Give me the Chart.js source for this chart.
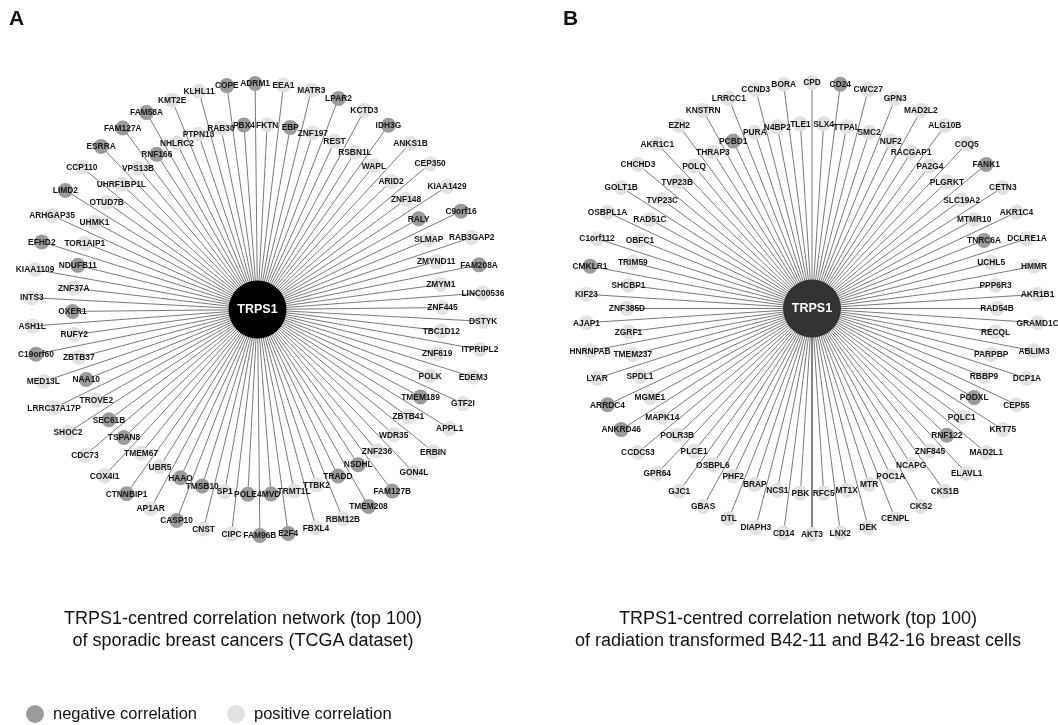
<!DOCTYPE html>
<html>
<head>
<meta charset="utf-8">
<script src="https://cdn.jsdelivr.net/npm/chart.js@4"></script>
<style>
  body { margin: 0; background: #fff; }
  #wrap { position: relative; width: 1058px; height: 725px; overflow: hidden; }
  #net { position: absolute; left: 0; top: 0; }
  .txt { position: absolute; font-family: 'Liberation Sans', Arial, sans-serif; color: #111; }
  .letter { font-weight: bold; font-size: 21px; top: 6px; }
  .title { width: 520px; text-align: center; font-size: 18px; line-height: 22px; top: 607px; }
  .legend { top: 702px; left: 26px; font-size: 16.5px; line-height: 22px; white-space: nowrap; }
  .dot { display: inline-block; width: 18px; height: 18px; border-radius: 50%; vertical-align: -4px; margin-right: 9px; }
</style>
</head>
<body>
<div id="wrap">
  <canvas id="net" width="1058" height="725"></canvas>
  <div class="txt letter" style="left:9px">A</div>
  <div class="txt letter" style="left:563px">B</div>
  <div class="txt title" style="left:-17px">TRPS1-centred correlation network (top 100)<br>of sporadic breast cancers (TCGA dataset)</div>
  <div class="txt title" style="left:538px">TRPS1-centred correlation network (top 100)<br>of radiation transformed B42-11 and B42-16 breast cells</div>
  <div class="txt legend"><span class="dot" style="background:#9b9b9b"></span>negative correlation<span class="dot" style="background:#e2e2e2;margin-left:30px"></span>positive correlation</div>
</div>
<script>
// hub gene of both networks
const hub = 'TRPS1';

// panel A: TCGA sporadic breast cancers, clockwise from the top
const genesA = [
  'ADRM1', 'FKTN', 'EEA1', 'EBP', 'MATR3', 'ZNF197', 'LPAR2', 'REST', 'KCTD3', 'RSBN1L',
  'IDH3G', 'WAPL', 'ANKS1B', 'ARID2', 'CEP350', 'ZNF148', 'KIAA1429', 'RALY', 'C9orf16', 'SLMAP',
  'RAB3GAP2', 'ZMYND11', 'FAM208A', 'ZMYM1', 'LINC00536', 'ZNF445', 'DSTYK', 'TBC1D12', 'ITPRIPL2', 'ZNF619',
  'EDEM3', 'POLK', 'GTF2I', 'TMEM189', 'APPL1', 'ZBTB41', 'ERBIN', 'WDR35', 'GON4L', 'ZNF236',
  'FAM127B', 'NSDHL', 'TMEM208', 'TRADD', 'RBM12B', 'TTBK2', 'FBXL4', 'TRMT1L', 'E2F4', 'MVD',
  'FAM96B', 'POLE4', 'CIPC', 'SP1', 'CNST', 'TMSB10', 'CASP10', 'HAAO', 'AP1AR', 'UBR5',
  'CTNNBIP1', 'TMEM67', 'COX4I1', 'TSPAN8', 'CDC73', 'SEC61B', 'SHOC2', 'TROVE2', 'LRRC37A17P', 'NAA10',
  'MED13L', 'ZBTB37', 'C19orf60', 'RUFY2', 'ASH1L', 'OXER1', 'INTS3', 'ZNF37A', 'KIAA1109', 'NDUFB11',
  'EFHD2', 'TOR1AIP1', 'ARHGAP35', 'UHMK1', 'LIMD2', 'OTUD7B', 'CCP110', 'UHRF1BP1L', 'ESRRA', 'VPS13B',
  'FAM127A', 'RNF166', 'FAM58A', 'NHLRC2', 'KMT2E', 'PTPN13', 'KLHL11', 'RAB30', 'COPE', 'PBX4'
];
const negativeA = [
  'ADRM1', 'EBP', 'LPAR2', 'IDH3G', 'RALY', 'C9orf16', 'FAM208A', 'TMEM189', 'FAM127B', 'NSDHL',
  'TMEM208', 'TRADD', 'E2F4', 'MVD', 'FAM96B', 'POLE4', 'TMSB10', 'CASP10', 'HAAO', 'CTNNBIP1',
  'TSPAN8', 'SEC61B', 'NAA10', 'C19orf60', 'OXER1', 'NDUFB11', 'EFHD2', 'LIMD2', 'ESRRA', 'FAM127A',
  'RNF166', 'FAM58A', 'COPE', 'PBX4'
];

// panel B: radiation transformed B42-11 / B42-16 cells, clockwise from the top
const genesB = [
  'CPD', 'SLX4', 'CD24', 'TTPAL', 'CWC27', 'SMC2', 'GPN3', 'NUF2', 'MAD2L2', 'RACGAP1',
  'ALG10B', 'PA2G4', 'COQ5', 'PLGRKT', 'FANK1', 'SLC19A2', 'CETN3', 'MTMR10', 'AKR1C4', 'TNRC6A',
  'DCLRE1A', 'UCHL5', 'HMMR', 'PPP6R3', 'AKR1B1', 'RAD54B', 'GRAMD1C', 'RECQL', 'ABLIM3', 'PARPBP',
  'DCP1A', 'RBBP9', 'CEP55', 'PODXL', 'KRT75', 'PQLC1', 'MAD2L1', 'RNF122', 'ELAVL1', 'ZNF845',
  'CKS1B', 'NCAPG', 'CKS2', 'POC1A', 'CENPL', 'MTR', 'DEK', 'MT1X', 'LNX2', 'RFC5',
  'AKT3', 'PBK', 'CD14', 'NCS1', 'DIAPH3', 'BRAP', 'DTL', 'PHF2', 'GBAS', 'OSBPL6',
  'GJC1', 'PLCE1', 'GPR64', 'POLR3B', 'CCDC53', 'MAPK14', 'ANKRD46', 'MGME1', 'ARRDC4', 'SPDL1',
  'LYAR', 'TMEM237', 'HNRNPAB', 'ZGRF1', 'AJAP1', 'ZNF385D', 'KIF23', 'SHCBP1', 'CMKLR1', 'TRIM59',
  'C1orf112', 'OBFC1', 'OSBPL1A', 'RAD51C', 'GOLT1B', 'TVP23C', 'CHCHD3', 'TVP23B', 'AKR1C1', 'POLQ',
  'EZH2', 'THRAP3', 'KNSTRN', 'PCBD1', 'LRRCC1', 'PURA', 'CCND3', 'N4BP2', 'BORA', 'TLE1'
];
const negativeB = ['CD24', 'FANK1', 'TNRC6A', 'PODXL', 'RNF122', 'ANKRD46', 'ARRDC4', 'CMKLR1', 'PCBD1'];

// layout of the two star networks (page units)
const panels = [
  { genes: genesA, neg: negativeA, cx: 257.5, cy: 309.5, start: -0.6, hubColor: '#000000' },
  { genes: genesB, neg: negativeB, cx: 812, cy: 308.5, start: 0, hubColor: '#333333' }
];
const rOuter = 226;
const rInner = 185;

function place(p, i) {
  const a = (p.start + 360 * i / p.genes.length) * Math.PI / 180;
  const r = i % 2 === 0 ? rOuter : rInner;
  return { x: p.cx + r * Math.sin(a), y: p.cy - r * Math.cos(a) };
}

const datasets = [];
panels.forEach(p => {
  const edges = [], negPts = [], posPts = [];
  p.genes.forEach((g, i) => {
    const pos = place(p, i);
    edges.push({ x: p.cx, y: p.cy }, { x: pos.x, y: pos.y }, { x: null, y: null });
    (p.neg.includes(g) ? negPts : posPts).push({ x: pos.x, y: pos.y, name: g });
  });
  datasets.push({
    data: edges, showLine: true, spanGaps: false, borderColor: '#6a6a6a', borderWidth: 0.9,
    pointRadius: 0, order: 4, clip: false
  });
  datasets.push({ data: posPts, backgroundColor: '#e2e2e2', pointRadius: 7.5, borderWidth: 0, order: 3, clip: false, labels: true });
  datasets.push({ data: negPts, backgroundColor: '#9b9b9b', pointRadius: 7.5, borderWidth: 0, order: 3, clip: false, labels: true });
  datasets.push({
    data: [{ x: p.cx, y: p.cy, name: hub }], backgroundColor: p.hubColor, pointRadius: 29,
    borderWidth: 0, order: 1, clip: false, hub: true
  });
});

const nodeLabels = {
  id: 'nodeLabels',
  afterDatasetsDraw(chart) {
    const ctx = chart.ctx;
    ctx.save();
    ctx.textAlign = 'center';
    ctx.textBaseline = 'middle';
    chart.data.datasets.forEach((ds, di) => {
      if (!ds.labels && !ds.hub) return;
      const meta = chart.getDatasetMeta(di);
      meta.data.forEach((pt, j) => {
        if (ds.hub) {
          ctx.font = 'bold 12.5px "Liberation Sans", sans-serif';
          ctx.fillStyle = '#ffffff';
        } else {
          ctx.font = 'bold 8.4px "Liberation Sans", sans-serif';
          ctx.fillStyle = '#151515';
        }
        ctx.fillText(ds.data[j].name, pt.x, pt.y + 0.5);
      });
    });
    ctx.restore();
  }
};

new Chart(document.getElementById('net'), {
  type: 'scatter',
  data: { datasets: datasets },
  options: {
    responsive: false,
    animation: false,
    layout: { padding: 0, autoPadding: false },
    scales: {
      x: { type: 'linear', min: 0, max: 1058, display: false },
      y: { type: 'linear', min: 0, max: 725, reverse: true, display: false }
    },
    plugins: { legend: { display: false }, tooltip: { enabled: false } }
  },
  plugins: [nodeLabels]
});
</script>
</body>
</html>
